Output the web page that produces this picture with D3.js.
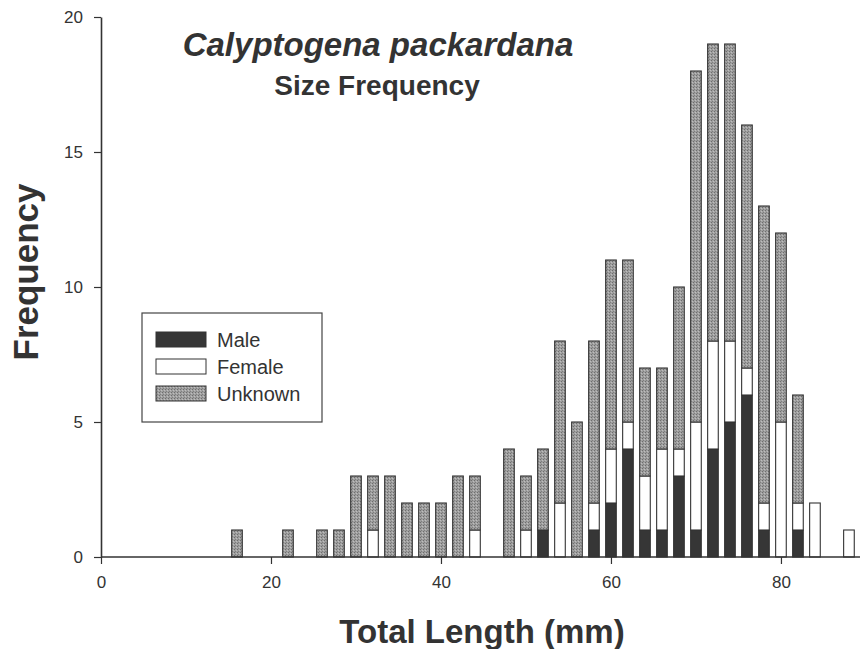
<!DOCTYPE html>
<html>
<head>
<meta charset="utf-8">
<script src="https://cdn.jsdelivr.net/npm/d3@7"></script>
<style>
  body { margin: 0; background: #fff; }
  text { font-family: "Liberation Sans", Arial, sans-serif; fill: #333; }
</style>
</head>
<body>
<svg id="chart" width="860" height="649"></svg>
<script>
// bin centres (mm) and counts per group
var lengths = [16, 22, 26, 28, 30, 32, 34, 36, 38, 40, 42, 44, 48, 50, 52, 54, 56, 58, 60, 62, 64, 66, 68, 70, 72, 74, 76, 78, 80, 82, 84, 88];
var male =    [0, 0, 0, 0, 0, 0, 0, 0, 0, 0, 0, 0, 0, 0, 1, 0, 0, 1, 2, 4, 1, 1, 3, 1, 4, 5, 6, 1, 0, 1, 0, 0];
var female =  [0, 0, 0, 0, 0, 1, 0, 0, 0, 0, 0, 1, 0, 1, 0, 2, 0, 1, 2, 1, 2, 3, 1, 4, 4, 3, 1, 1, 5, 1, 2, 1];
var unknown = [1, 1, 1, 1, 3, 2, 3, 2, 2, 2, 3, 2, 4, 2, 3, 6, 5, 6, 7, 6, 4, 3, 6, 13, 11, 11, 9, 11, 7, 4, 0, 0];

var groups = ["Male", "Female", "Unknown"];
var xTicks = [0, 20, 40, 60, 80];
var yTicks = [0, 5, 10, 15, 20];

var rows = lengths.map(function (d, i) {
  return { len: d, Male: male[i], Female: female[i], Unknown: unknown[i] };
});

var svg = d3.select("#chart");

// stipple fill for the "unknown" bars
var defs = svg.append("defs");
var pat = defs.append("pattern")
  .attr("id", "stipple")
  .attr("width", 3).attr("height", 3)
  .attr("patternUnits", "userSpaceOnUse");
pat.append("rect").attr("width", 3).attr("height", 3).attr("fill", "#9f9f9f");
pat.append("rect").attr("x", 0).attr("y", 0).attr("width", 1).attr("height", 1).attr("fill", "#6e6e6e");
pat.append("rect").attr("x", 2).attr("y", 1).attr("width", 1).attr("height", 1).attr("fill", "#bdbdbd");
pat.append("rect").attr("x", 1).attr("y", 2).attr("width", 1).attr("height", 1).attr("fill", "#7f7f7f");

var fills = { Male: "#363636", Female: "#fff", Unknown: "url(#stipple)" };

var x = d3.scaleLinear().domain([0, 89.3]).range([101, 860]);
var y = d3.scaleLinear().domain([0, 20]).range([557, 17]);
var barW = x(1.25) - x(0);

var series = d3.stack().keys(groups)(rows);

svg.append("g")
  .selectAll("g")
  .data(series)
  .join("g")
  .attr("fill", function (s) { return fills[s.key]; })
  .selectAll("rect")
  .data(function (s) { return s.filter(function (d) { return d[1] > d[0]; }); })
  .join("rect")
  .attr("x", function (d) { return x(d.data.len) - barW / 2; })
  .attr("width", barW)
  .attr("y", function (d) { return y(d[1]); })
  .attr("height", function (d) { return y(d[0]) - y(d[1]); })
  .attr("stroke", "#333")
  .attr("stroke-width", 1.1);

// axes
var xAxis = svg.append("g")
  .attr("transform", "translate(0," + y(0) + ")")
  .call(d3.axisBottom(x).tickValues(xTicks).tickSize(7).tickPadding(12).tickSizeOuter(0));
xAxis.select(".domain").attr("d", "M" + x(0) + ",0H860");

var yAxis = svg.append("g")
  .attr("transform", "translate(" + x(0) + ",0)")
  .call(d3.axisLeft(y).tickValues(yTicks).tickSize(7).tickPadding(11).tickSizeOuter(0));

svg.selectAll(".domain").attr("stroke", "#333").attr("stroke-width", 1.6);
svg.selectAll(".tick line").attr("stroke", "#333").attr("stroke-width", 1.2);
svg.selectAll(".tick text")
  .style("font-family", "'Liberation Sans', Arial, sans-serif")
  .style("font-size", "17px")
  .attr("fill", "#444");

// titles
svg.append("text")
  .attr("x", 378).attr("y", 56)
  .attr("text-anchor", "middle")
  .style("font-size", "33px").style("font-weight", "bold").style("font-style", "italic")
  .text("Calyptogena packardana");

svg.append("text")
  .attr("x", 377).attr("y", 95)
  .attr("text-anchor", "middle")
  .style("font-size", "28px").style("font-weight", "bold")
  .text("Size Frequency");

svg.append("text")
  .attr("x", 482).attr("y", 643)
  .attr("text-anchor", "middle")
  .style("font-size", "33px").style("font-weight", "bold")
  .text("Total Length (mm)");

svg.append("text")
  .attr("transform", "translate(38,272) rotate(-90)")
  .attr("text-anchor", "middle")
  .style("font-size", "35px").style("font-weight", "bold")
  .text("Frequency");

// legend
var legend = svg.append("g");
legend.append("rect")
  .attr("x", 142).attr("y", 313).attr("width", 180).attr("height", 109)
  .attr("fill", "#fff").attr("stroke", "#444").attr("stroke-width", 1.2);

var item = legend.selectAll("g.item")
  .data(groups)
  .join("g")
  .attr("class", "item")
  .attr("transform", function (d, i) { return "translate(156," + (332 + i * 27) + ")"; });

item.append("rect")
  .attr("width", 50).attr("height", 15)
  .attr("fill", function (d) { return fills[d]; })
  .attr("stroke", "#333").attr("stroke-width", 1);

item.append("text")
  .attr("x", 61).attr("y", 15)
  .style("font-size", "20px")
  .text(function (d) { return d; });
</script>
</body>
</html>
